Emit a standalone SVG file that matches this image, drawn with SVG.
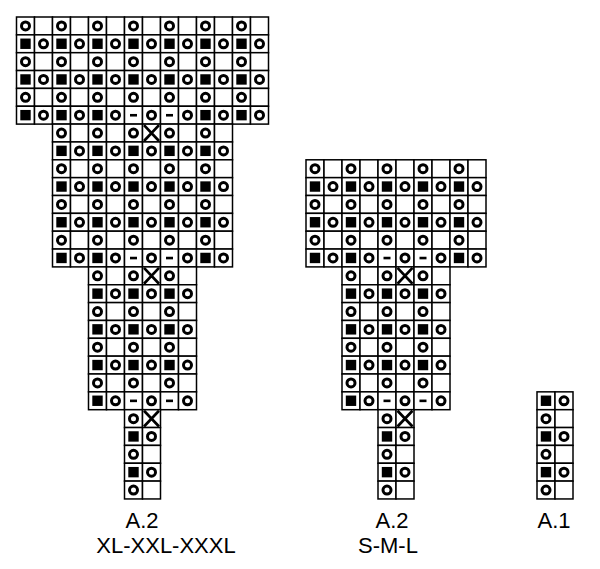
<svg xmlns="http://www.w3.org/2000/svg" xmlns:xlink="http://www.w3.org/1999/xlink" width="600" height="569" viewBox="0 0 600 569">
<style>
.cell{fill:#fff;stroke:#000;stroke-width:1.5}
.ring{fill:none;stroke:#000;stroke-width:3}
.sq{fill:#000}
.xx{stroke:#000;stroke-width:2.7;fill:none}
.lbl{font-family:"Liberation Sans",Arial,sans-serif;font-size:22px;fill:#000;text-anchor:middle}
</style>
<defs>
<g id="c2"><rect class="cell" x="0" y="0" width="18" height="17.85"/><rect class="cell" x="18" y="0" width="18" height="17.85"/></g>
<circle id="O" class="ring" cx="9" cy="8.925" r="4"/>
<rect id="S" class="sq" x="3.8" y="3.7" width="10.4" height="10.4"/>
<rect id="D" class="sq" x="5.5" y="7.7" width="7" height="2.6"/>
<path id="X" class="xx" d="M1.5,1 L16.5,16.85 M16.5,1 L1.5,16.85"/>
<g id="pO"><use xlink:href="#c2"/><use xlink:href="#O"/></g>
<g id="pS"><use xlink:href="#c2"/><use xlink:href="#S"/><use xlink:href="#O" x="18"/></g>
<g id="pD"><use xlink:href="#c2"/><use xlink:href="#D"/><use xlink:href="#O" x="18"/></g>
<g id="pX"><use xlink:href="#c2"/><use xlink:href="#O"/><use xlink:href="#X" x="18"/></g>
<g id="rO6"><use xlink:href="#pO"/><use xlink:href="#pO" x="36"/><use xlink:href="#pO" x="72"/></g>
<g id="rS6"><use xlink:href="#pS"/><use xlink:href="#pS" x="36"/><use xlink:href="#pS" x="72"/></g>
<g id="rO10"><use xlink:href="#rO6"/><use xlink:href="#pO" x="108"/><use xlink:href="#pO" x="144"/></g>
<g id="rS10"><use xlink:href="#rS6"/><use xlink:href="#pS" x="108"/><use xlink:href="#pS" x="144"/></g>
<g id="rO14"><use xlink:href="#rO10"/><use xlink:href="#pO" x="180"/><use xlink:href="#pO" x="216"/></g>
<g id="rS14"><use xlink:href="#rS10"/><use xlink:href="#pS" x="180"/><use xlink:href="#pS" x="216"/></g>
<g id="rM14"><use xlink:href="#pS"/><use xlink:href="#pS" x="36"/><use xlink:href="#pS" x="72"/><use xlink:href="#pD" x="108"/><use xlink:href="#pD" x="144"/><use xlink:href="#pS" x="180"/><use xlink:href="#pS" x="216"/></g>
<g id="rM10"><use xlink:href="#pS"/><use xlink:href="#pS" x="36"/><use xlink:href="#pD" x="72"/><use xlink:href="#pD" x="108"/><use xlink:href="#pS" x="144"/></g>
<g id="rM6"><use xlink:href="#pS"/><use xlink:href="#pD" x="36"/><use xlink:href="#pD" x="72"/></g>
<g id="rX10"><use xlink:href="#pO"/><use xlink:href="#pO" x="36"/><use xlink:href="#pX" x="72"/><use xlink:href="#pO" x="108"/><use xlink:href="#pO" x="144"/></g>
<g id="rX6"><use xlink:href="#pO"/><use xlink:href="#pX" x="36"/><use xlink:href="#pO" x="72"/></g>
</defs>
<g id="chart-a2-xl">
<use xlink:href="#rO14" x="16.5" y="17"/>
<use xlink:href="#rS14" x="16.5" y="34.85"/>
<use xlink:href="#rO14" x="16.5" y="52.7"/>
<use xlink:href="#rS14" x="16.5" y="70.55"/>
<use xlink:href="#rO14" x="16.5" y="88.4"/>
<use xlink:href="#rM14" x="16.5" y="106.25"/>
<use xlink:href="#rX10" x="52.5" y="124.1"/>
<use xlink:href="#rS10" x="52.5" y="141.95"/>
<use xlink:href="#rO10" x="52.5" y="159.8"/>
<use xlink:href="#rS10" x="52.5" y="177.65"/>
<use xlink:href="#rO10" x="52.5" y="195.5"/>
<use xlink:href="#rS10" x="52.5" y="213.35"/>
<use xlink:href="#rO10" x="52.5" y="231.2"/>
<use xlink:href="#rM10" x="52.5" y="249.05"/>
<use xlink:href="#rX6" x="88.5" y="266.9"/>
<use xlink:href="#rS6" x="88.5" y="284.75"/>
<use xlink:href="#rO6" x="88.5" y="302.6"/>
<use xlink:href="#rS6" x="88.5" y="320.45"/>
<use xlink:href="#rO6" x="88.5" y="338.3"/>
<use xlink:href="#rS6" x="88.5" y="356.15"/>
<use xlink:href="#rO6" x="88.5" y="374"/>
<use xlink:href="#rM6" x="88.5" y="391.85"/>
<use xlink:href="#pX" x="124.5" y="409.7"/>
<use xlink:href="#pS" x="124.5" y="427.55"/>
<use xlink:href="#pO" x="124.5" y="445.4"/>
<use xlink:href="#pS" x="124.5" y="463.25"/>
<use xlink:href="#pO" x="124.5" y="481.1"/>
</g>
<g id="chart-a2-sml">
<use xlink:href="#rO10" x="306" y="159.8"/>
<use xlink:href="#rS10" x="306" y="177.65"/>
<use xlink:href="#rO10" x="306" y="195.5"/>
<use xlink:href="#rS10" x="306" y="213.35"/>
<use xlink:href="#rO10" x="306" y="231.2"/>
<use xlink:href="#rM10" x="306" y="249.05"/>
<use xlink:href="#rX6" x="342" y="266.9"/>
<use xlink:href="#rS6" x="342" y="284.75"/>
<use xlink:href="#rO6" x="342" y="302.6"/>
<use xlink:href="#rS6" x="342" y="320.45"/>
<use xlink:href="#rO6" x="342" y="338.3"/>
<use xlink:href="#rS6" x="342" y="356.15"/>
<use xlink:href="#rO6" x="342" y="374"/>
<use xlink:href="#rM6" x="342" y="391.85"/>
<use xlink:href="#pX" x="378" y="409.7"/>
<use xlink:href="#pS" x="378" y="427.55"/>
<use xlink:href="#pO" x="378" y="445.4"/>
<use xlink:href="#pS" x="378" y="463.25"/>
<use xlink:href="#pO" x="378" y="481.1"/>
</g>
<g id="chart-a1">
<use xlink:href="#pS" x="537" y="391.85"/>
<use xlink:href="#pO" x="537" y="409.7"/>
<use xlink:href="#pS" x="537" y="427.55"/>
<use xlink:href="#pO" x="537" y="445.4"/>
<use xlink:href="#pS" x="537" y="463.25"/>
<use xlink:href="#pO" x="537" y="481.1"/>
</g>
<g id="labels">
<text class="lbl" x="142" y="528">A.2</text>
<text class="lbl" x="166" y="553">XL-XXL-XXXL</text>
<text class="lbl" x="392" y="528">A.2</text>
<text class="lbl" x="388" y="553">S-M-L</text>
<text class="lbl" x="554" y="528">A.1</text>
</g>
</svg>
